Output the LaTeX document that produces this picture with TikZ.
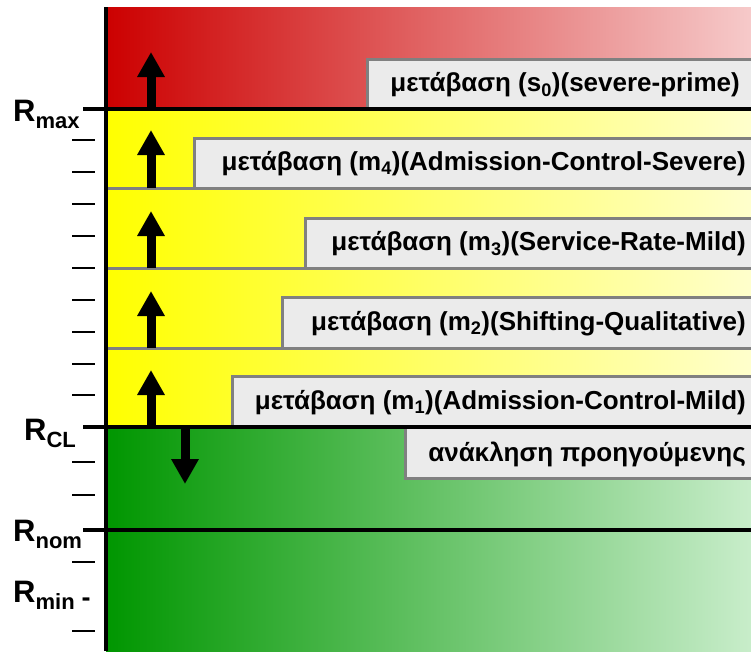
\documentclass[tikz,border=0pt]{standalone}
\usepackage{fontspec}
\setmainfont{Liberation Sans}
\usetikzlibrary{arrows.meta}

% band colours
\definecolor{redL}{RGB}{204,0,0}
\definecolor{redR}{RGB}{246,202,202}
\definecolor{yelL}{RGB}{255,255,0}
\definecolor{yelR}{RGB}{255,255,204}
\definecolor{grnL}{RGB}{0,150,0}
\definecolor{grnR}{RGB}{200,237,202}
\definecolor{boxfill}{RGB}{235,235,235}
\definecolor{boxline}{RGB}{128,128,128}

% level label: big R with a lowered subscript
\newcommand{\levellabel}[1]{R\raisebox{-7pt}{\fontsize{22}{22}\selectfont #1}}

\begin{document}
\begin{tikzpicture}[x=1pt,y=-1pt,
  bandline/.style={draw=boxline,line width=3pt},
  levelline/.style={draw=black,line width=4pt},
  tickmark/.style={draw=black,line width=2pt},
  tbox/.style={fill=boxfill,draw=boxline,line width=3pt},
  ttext/.style={font=\bfseries\fontsize{26}{30}\selectfont,inner sep=0pt,anchor=east},
  lvl/.style={font=\bfseries\fontsize{31}{31}\selectfont,inner sep=0pt,anchor=base west},
  uparrow/.style={draw=black,line width=9pt,-{Triangle[length=25pt,width=26pt]}},
]
\useasboundingbox (0,0) rectangle (751,651);

% coloured bands
\shade[left color=redL,right color=redR] (106,7) rectangle (751,109);
\shade[left color=yelL,right color=yelR] (106,109) rectangle (751,427);
\shade[left color=grnL,right color=grnR] (106,427) rectangle (751,651);

% thin separators inside the yellow band
\draw[bandline] (106,188) -- (751,188);
\draw[bandline] (106,268) -- (751,268);
\draw[bandline] (106,348) -- (751,348);

% transition boxes
\draw[tbox] (367,59) rectangle (770,109);
\draw[tbox] (194,138) rectangle (770,188);
\draw[tbox] (305,218) rectangle (770,268);
\draw[tbox] (282,297) rectangle (770,348);
\draw[tbox] (232,376) rectangle (770,427);
\draw[tbox] (405,427) rectangle (770,478);

\node[ttext] (ts0) at (740,85) {μετάβαση (s\textsubscript{0})(severe-prime)};
\node[ttext] (tm4) at (746,164) {μετάβαση (m\textsubscript{4})(Admission-Control-Severe)};
\node[ttext] (tm3) at (746,244) {μετάβαση (m\textsubscript{3})(Service-Rate-Mild)};
\node[ttext] (tm2) at (746,324) {μετάβαση (m\textsubscript{2})(Shifting-Qualitative)};
\node[ttext] (tm1) at (746,403) {μετάβαση (m\textsubscript{1})(Admission-Control-Mild)};
\node[ttext] (tback) at (746,454) {ανάκληση προηγούμενης};

% main level lines
\draw[levelline] (83,109) -- (751,109);
\draw[levelline] (83,427) -- (751,427);
\draw[levelline] (83,530) -- (751,530);

% arrows
\coordinate (u0s) at (151,109); \coordinate (u0e) at (151,52);
\coordinate (u4s) at (151,188); \coordinate (u4e) at (151,130);
\coordinate (u3s) at (151,268); \coordinate (u3e) at (151,211);
\coordinate (u2s) at (151,348); \coordinate (u2e) at (151,291);
\coordinate (u1s) at (151,427); \coordinate (u1e) at (151,370);
\coordinate (dns) at (185,427); \coordinate (dne) at (185,484);
\draw[uparrow] (u0s) -- (u0e);
\draw[uparrow] (u4s) -- (u4e);
\draw[uparrow] (u3s) -- (u3e);
\draw[uparrow] (u2s) -- (u2e);
\draw[uparrow] (u1s) -- (u1e);
\draw[uparrow] (dns) -- (dne);

% scale ticks
\foreach \ty in {140,172,204,236,268,300,332,364,395,462,495,562,631}
  \draw[tickmark] (72,\ty) -- (95,\ty);

% vertical axis
\draw[draw=black,line width=4pt] (106,7) -- (106,651);

% level labels
\node[lvl] (rmax) at (13,121) {\levellabel{max}};
\node[lvl] (rcl) at (24,440) {\levellabel{CL}};
\node[lvl] (rnom) at (13,541) {\levellabel{nom}};
\node[lvl] (rmin) at (13,602) {R\raisebox{-7pt}{\fontsize{22}{22}\selectfont min\hspace{7pt}\raisebox{3pt}{\fontsize{27}{27}\selectfont -}}};
\end{tikzpicture}
\end{document}
